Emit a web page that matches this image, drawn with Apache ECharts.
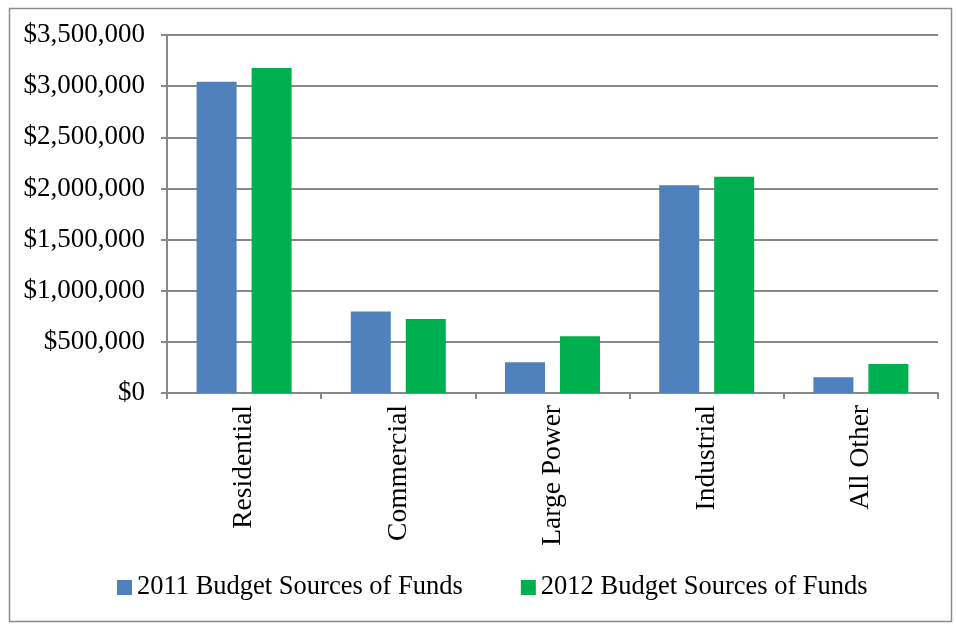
<!DOCTYPE html>
<html>
<head>
<meta charset="utf-8">
<title>Budget Sources of Funds</title>
<script src="https://cdn.jsdelivr.net/npm/echarts@6/dist/echarts.min.js"></script>
<style>
  html, body { margin: 0; padding: 0; background: #fff; }
  #chart { width: 956px; height: 624px; }
</style>
</head>
<body>
<div id="chart"></div>
<script>
// Revenue classes on the category axis
const categories = ['Residential', 'Commercial', 'Large Power', 'Industrial', 'All Other'];

// Sources of funds by class, in dollars
const budget2011 = [3044000, 796000, 300000, 2030000, 153000];
const budget2012 = [3177000, 723000, 554000, 2115000, 283000];

const seriesNames = ['2011 Budget Sources of Funds', '2012 Budget Sources of Funds'];

// Value axis range and step
const yMin = 0;
const yMax = 3500000;
const yStep = 500000;

const serif = '"Liberation Serif", "Times New Roman", serif';
const gridColor = '#888888';

function money(v) {
  return '$' + Math.round(v).toString().replace(/\B(?=(\d{3})+(?!\d))/g, ',');
}

const chart = echarts.init(document.getElementById('chart'), null, { renderer: 'canvas' });

chart.setOption({
  animation: false,
  backgroundColor: '#ffffff',
  graphic: [{
    type: 'rect',
    left: 7, top: 6,
    shape: { width: 942, height: 613 },
    style: { fill: 'none', stroke: '#8c8c8c', lineWidth: 1.5 },
    silent: true
  }],
  grid: { left: 167, right: 18, top: 35, bottom: 231, containLabel: false },
  legend: {
    data: seriesNames,
    bottom: 18,
    left: 112,
    itemWidth: 15,
    itemHeight: 15,
    itemGap: 58,
    icon: 'rect',
    textStyle: { fontFamily: serif, fontSize: 26.5, color: '#000' }
  },
  xAxis: {
    type: 'category',
    data: categories,
    boundaryGap: true,
    axisLine: { show: true, lineStyle: { color: gridColor, width: 2 } },
    axisTick: { show: true, alignWithLabel: false, length: 6, lineStyle: { color: gridColor, width: 2 } },
    axisLabel: {
      rotate: 90,
      margin: 12,
      fontFamily: serif,
      fontSize: 27.5,
      color: '#000'
    },
    splitLine: { show: false }
  },
  yAxis: {
    type: 'value',
    min: yMin,
    max: yMax,
    interval: yStep,
    axisLine: { show: true, lineStyle: { color: gridColor, width: 2 } },
    axisTick: { show: true, length: 6, lineStyle: { color: gridColor, width: 2 } },
    axisLabel: {
      margin: 22,
      fontFamily: serif,
      fontSize: 27,
      color: '#000',
      formatter: money
    },
    splitLine: { show: true, lineStyle: { color: gridColor, width: 2 } }
  },
  series: [
    {
      name: seriesNames[0],
      type: 'bar',
      data: budget2011,
      barWidth: 40,
      barGap: '37.5%',
      itemStyle: { color: '#4F81BD' }
    },
    {
      name: seriesNames[1],
      type: 'bar',
      data: budget2012,
      barWidth: 40,
      barGap: '37.5%',
      itemStyle: { color: '#00B050' }
    }
  ]
});
</script>
</body>
</html>
